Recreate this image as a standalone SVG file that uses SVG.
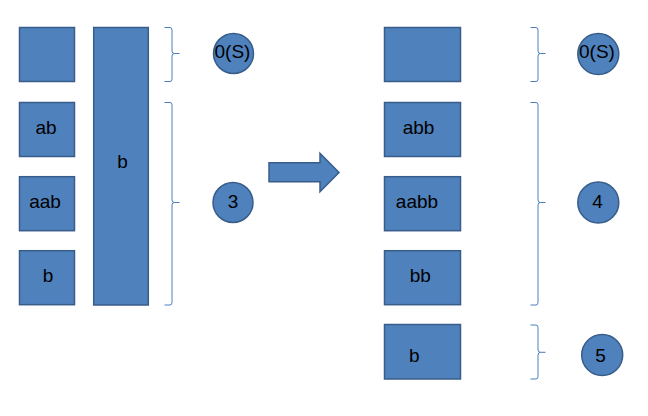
<svg xmlns="http://www.w3.org/2000/svg" width="648" height="416" viewBox="0 0 648 416">
<style>
.n{fill:#4F81BD;stroke:#385D8A;stroke-width:1.5}
.t{font-family:"Liberation Sans",Arial,sans-serif;font-size:19px;fill:#000;text-anchor:middle}
.br{fill:none;stroke:#4A7EBB;stroke-width:1}
</style>
<rect width="648" height="416" fill="#fff"/>
<g id="connectors">
<path class="br" d="M164.5,27.5 H170 Q172,27.5 172,30 V51 Q172,53.5 174.5,53.5 H179.5 M174.5,53.5 Q172,53.5 172,56 V79 Q172,81.5 170,81.5 H164.5"/>
<path class="br" d="M164.5,102.5 H170 Q172,102.5 172,105 V200 Q172,202.5 174.5,202.5 H179.5 M174.5,202.5 Q172,202.5 172,205 V302.5 Q172,305 170,305 H164.5"/>
<path class="br" d="M530.5,27.5 H536 Q538,27.5 538,30 V51 Q538,53.5 540.5,53.5 H545.5 M540.5,53.5 Q538,53.5 538,56 V79 Q538,81.5 536,81.5 H530.5"/>
<path class="br" d="M530.5,102.5 H536 Q538,102.5 538,105 V200 Q538,202.5 540.5,202.5 H545.5 M540.5,202.5 Q538,202.5 538,205 V302.5 Q538,305 536,305 H530.5"/>
<path class="br" d="M530.5,325 H536 Q538,325 538,327.5 V350 Q538,352.3 540.5,352.3 H545.5 M540.5,352.3 Q538,352.3 538,355 V376.5 Q538,379 536,379 H530.5"/>
<path id="arrow" class="n" d="M269,162.7 H320 V153.3 L339,172.5 L320,191.7 V181.7 H269 Z"/>
</g>
<g id="l0"><rect class="n" x="19.5" y="27.5" width="55" height="54"/></g>
<g id="lab"><rect class="n" x="19.5" y="102.5" width="55" height="54"/><text class="t" x="46" y="134">ab</text></g>
<g id="laab"><rect class="n" x="19.5" y="176.7" width="55" height="54"/><text class="t" x="45" y="208">aab</text></g>
<g id="lb"><rect class="n" x="19.5" y="250.7" width="55" height="54"/><text class="t" x="48" y="281.7">b</text></g>
<g id="ltall"><rect class="n" x="93.7" y="27.5" width="54.6" height="277.5"/><text class="t" x="122.5" y="167.7">b</text></g>
<g id="lc0"><circle class="n" cx="233.5" cy="53.5" r="20"/><text class="t" x="232.5" y="57.5">0(S)</text></g>
<g id="lc3"><circle class="n" cx="233" cy="202.5" r="20"/><text class="t" x="233" y="208">3</text></g>
<g id="r0"><rect class="n" x="384.5" y="27.5" width="76" height="54"/></g>
<g id="rabb"><rect class="n" x="384.5" y="102.5" width="76" height="54"/><text class="t" x="418.5" y="134">abb</text></g>
<g id="raabb"><rect class="n" x="384.5" y="176.7" width="76" height="54"/><text class="t" x="417" y="208">aabb</text></g>
<g id="rbb"><rect class="n" x="384.5" y="250.7" width="76" height="54"/><text class="t" x="420.3" y="281.7">bb</text></g>
<g id="rb"><rect class="n" x="384.5" y="324.5" width="76" height="54.5"/><text class="t" x="414.3" y="361.7">b</text></g>
<g id="rc0"><circle class="n" cx="598.3" cy="54" r="20.5"/><text class="t" x="597" y="58">0(S)</text></g>
<g id="rc4"><circle class="n" cx="598.3" cy="202.5" r="20.5"/><text class="t" x="597.5" y="208">4</text></g>
<g id="rc5"><circle class="n" cx="602.2" cy="355" r="20.5"/><text class="t" x="600.5" y="361.7">5</text></g>
</svg>
